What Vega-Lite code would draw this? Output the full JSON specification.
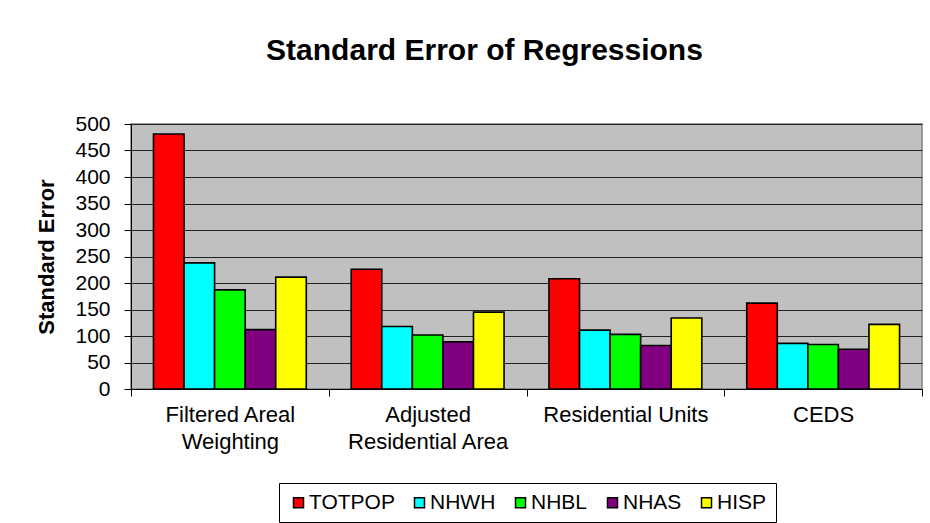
{
  "$schema": "https://vega.github.io/schema/vega-lite/v6.json",
  "width": 791,
  "height": 265,
  "autosize": {"type": "none"},
  "padding": {"left": 131, "top": 124, "right": 8, "bottom": 134},
  "background": "white",
  "title": {"text": "Standard Error of Regressions", "font": "Liberation Sans", "fontSize": 30, "fontWeight": "bold", "color": "black", "offset": 47, "anchor": "middle", "dx": -42},
  "data": {"values": [
    {"method": "Filtered Areal Weighting", "series": "TOTPOP", "se": 481},
    {"method": "Filtered Areal Weighting", "series": "NHWH", "se": 238},
    {"method": "Filtered Areal Weighting", "series": "NHBL", "se": 187},
    {"method": "Filtered Areal Weighting", "series": "NHAS", "se": 112},
    {"method": "Filtered Areal Weighting", "series": "HISP", "se": 211},
    {"method": "Adjusted Residential Area", "series": "TOTPOP", "se": 226},
    {"method": "Adjusted Residential Area", "series": "NHWH", "se": 118},
    {"method": "Adjusted Residential Area", "series": "NHBL", "se": 102},
    {"method": "Adjusted Residential Area", "series": "NHAS", "se": 89},
    {"method": "Adjusted Residential Area", "series": "HISP", "se": 145},
    {"method": "Residential Units", "series": "TOTPOP", "se": 208},
    {"method": "Residential Units", "series": "NHWH", "se": 111},
    {"method": "Residential Units", "series": "NHBL", "se": 103},
    {"method": "Residential Units", "series": "NHAS", "se": 82},
    {"method": "Residential Units", "series": "HISP", "se": 134},
    {"method": "CEDS", "series": "TOTPOP", "se": 162},
    {"method": "CEDS", "series": "NHWH", "se": 86},
    {"method": "CEDS", "series": "NHBL", "se": 84},
    {"method": "CEDS", "series": "NHAS", "se": 75},
    {"method": "CEDS", "series": "HISP", "se": 122}
  ]},
  "mark": {"type": "bar", "stroke": "black", "strokeWidth": 1.6},
  "encoding": {
    "x": {
      "field": "method", "type": "nominal",
      "sort": ["Filtered Areal Weighting", "Adjusted Residential Area", "Residential Units", "CEDS"],
      "scale": {"paddingInner": 0, "paddingOuter": 0},
      "axis": {
        "title": null, "labelAngle": 0, "grid": false, "tickBand": "extent",
        "domainColor": "black", "tickColor": "black", "tickSize": 7, "domainWidth": 1, "tickWidth": 1,
        "labelFont": "Liberation Sans", "labelFontSize": 22, "labelColor": "black", "labelPadding": 8, "labelLineHeight": 27,
        "labelBaseline": "top",
        "labelExpr": "datum.label == 'Filtered Areal Weighting' ? ['Filtered Areal', 'Weighting'] : datum.label == 'Adjusted Residential Area' ? ['Adjusted', 'Residential Area'] : datum.label"
      }
    },
    "xOffset": {
      "field": "series", "type": "nominal",
      "sort": ["TOTPOP", "NHWH", "NHBL", "NHAS", "HISP"],
      "scale": {"paddingInner": 0, "paddingOuter": 0.735}
    },
    "y": {
      "field": "se", "type": "quantitative",
      "scale": {"domain": [0, 500], "nice": false},
      "axis": {
        "values": [0, 50, 100, 150, 200, 250, 300, 350, 400, 450, 500],
        "title": "Standard Error", "titleFont": "Liberation Sans", "titleFontSize": 22, "titleFontWeight": "bold", "titleColor": "black", "titlePadding": 16,
        "labelFont": "Liberation Sans", "labelFontSize": 21, "labelColor": "black", "labelPadding": 14,
        "grid": true, "gridColor": "#222222", "gridWidth": 1,
        "domainColor": "black", "tickColor": "black", "tickSize": 7
      }
    },
    "color": {
      "field": "series", "type": "nominal",
      "sort": ["TOTPOP", "NHWH", "NHBL", "NHAS", "HISP"],
      "scale": {"domain": ["TOTPOP", "NHWH", "NHBL", "NHAS", "HISP"], "range": ["#FF0000", "#00FFFF", "#00FF00", "#800080", "#FFFF00"]},
      "legend": {
        "title": null, "orient": "none", "legendX": 148, "legendY": 359, "direction": "horizontal",
        "strokeColor": "black", "fillColor": "white", "padding": 9,
        "symbolType": "square", "symbolSize": 100, "symbolStrokeColor": "black", "symbolStrokeWidth": 1.5,
        "labelFont": "Liberation Sans", "labelFontSize": 21, "labelColor": "black", "labelOffset": 0,
        "columnPadding": 14
      }
    }
  },
  "config": {
    "view": {"fill": "#C0C0C0", "stroke": "#808080", "strokeWidth": 1.5}
  }
}
